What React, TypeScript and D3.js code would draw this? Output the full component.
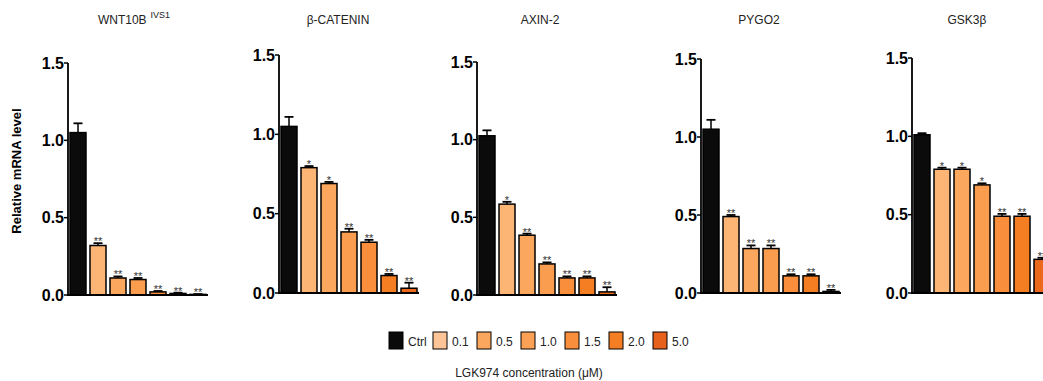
import React from "react";
import { scaleBand, scaleLinear } from "d3";

const width = 1043;
const height = 381;

const groups = ["Ctrl", "0.1", "0.5", "1.0", "1.5", "2.0", "5.0"];
const colors = ["#0b0b0b", "#fdb576", "#fca75e", "#fb9d4e", "#f98f3c", "#f57d22", "#ec681b"];
const legendColors = ["#0b0b0b", "#fdc497", "#fca75e", "#fba055", "#f98f3c", "#f57d22", "#e8611a"];

const genes = ["WNT10B", "β-CATENIN", "AXIN-2", "PYGO2", "GSK3β"];
const geneSup = ["IVS1", "", "", "", ""];

const wnt10bValues = [1.05, 0.32, 0.11, 0.1, 0.02, 0.01, 0.004];
const wnt10bErrors = [0.06, 0.015, 0.01, 0.01, 0.006, 0.005, 0.002];
const wnt10bStars = ["", "**", "**", "**", "**", "**", "**"];

const catValues = [1.05, 0.79, 0.69, 0.385, 0.32, 0.11, 0.03];
const catErrors = [0.06, 0.01, 0.01, 0.02, 0.015, 0.01, 0.035];
const catStars = ["", "*", "*", "**", "**", "**", "**"];

const axinValues = [1.025, 0.585, 0.385, 0.2, 0.11, 0.11, 0.02];
const axinErrors = [0.035, 0.015, 0.01, 0.01, 0.01, 0.01, 0.03];
const axinStars = ["", "*", "**", "**", "**", "**", "**"];

const pygoValues = [1.05, 0.49, 0.285, 0.285, 0.11, 0.11, 0.01];
const pygoErrors = [0.06, 0.01, 0.02, 0.02, 0.01, 0.01, 0.01];
const pygoStars = ["", "**", "**", "**", "**", "**", "**"];

const gskValues = [1.01, 0.79, 0.79, 0.69, 0.49, 0.49, 0.215];
const gskErrors = [0.01, 0.01, 0.01, 0.01, 0.015, 0.015, 0.01];
const gskStars = ["", "*", "*", "*", "**", "**", "**"];

const yTicks = [0, 0.5, 1.0, 1.5];

// panel layout (pixels)
const axisX = [68, 279, 477, 701, 912];
const axisTop = [63, 55, 62, 59, 58];
const axisBottom = [295, 293, 295, 293, 293];
const titleOffset = [66, 59, 63, 58, 55];
const panelWidth = 140;

const panels = [
  { values: wnt10bValues, errors: wnt10bErrors, stars: wnt10bStars },
  { values: catValues, errors: catErrors, stars: catStars },
  { values: axinValues, errors: axinErrors, stars: axinStars },
  { values: pygoValues, errors: pygoErrors, stars: pygoStars },
  { values: gskValues, errors: gskErrors, stars: gskStars },
];

const font = "'Liberation Sans', Arial, sans-serif";

export default function App() {
  const x = scaleBand<string>()
    .domain(groups)
    .range([0, panelWidth])
    .paddingInner(0.2)
    .paddingOuter(0.1);

  return (
    <svg
      width={width}
      height={height}
      style={{ position: "absolute", left: 0, top: 0, fontFamily: font }}
    >
      <rect width={width} height={height} fill="white" />
      <text
        transform="translate(21, 171) rotate(-90)"
        textAnchor="middle"
        fontSize={13}
        fontWeight="bold"
      >
        Relative mRNA level
      </text>
      {panels.map((p, pi) => {
        const y = scaleLinear().domain([0, 1.5]).range([axisBottom[pi], axisTop[pi]]);
        return (
          <g key={genes[pi]} transform={`translate(${axisX[pi]}, 0)`}>
            <text x={titleOffset[pi]} y={24} textAnchor="middle" fontSize={12} fill="#222">
              {genes[pi]}
              {geneSup[pi] && (
                <tspan fontSize={9} dx={4} dy={-6}>
                  {geneSup[pi]}
                </tspan>
              )}
            </text>
            {p.values.map((v, i) => {
              const bx = x(groups[i])!;
              const bw = x.bandwidth();
              const cx = bx + bw / 2;
              const errTop = y(v + p.errors[i]);
              return (
                <g key={groups[i]}>
                  <line x1={cx} x2={cx} y1={y(v)} y2={errTop} stroke="#000" strokeWidth={1.5} />
                  <line x1={cx - 4.5} x2={cx + 4.5} y1={errTop} y2={errTop} stroke="#000" strokeWidth={1.8} />
                  <rect
                    x={bx}
                    y={y(v)}
                    width={bw}
                    height={y(0) - y(v)}
                    fill={colors[i]}
                    stroke="#000"
                    strokeWidth={1.5}
                  />
                  <text
                    x={cx}
                    y={errTop + 2}
                    textAnchor="middle"
                    fontSize={11}
                    fill="#333"
                  >
                    {p.stars[i]}
                  </text>
                </g>
              );
            })}
            <line x1={0} x2={0} y1={y(1.5)} y2={y(0)} stroke="#000" strokeWidth={1.8} />
            <line x1={-1} x2={panelWidth} y1={y(0)} y2={y(0)} stroke="#000" strokeWidth={1.8} />
            {yTicks.map((t) => (
              <g key={t} transform={`translate(0, ${y(t)})`}>
                <line x1={-4} x2={0} stroke="#000" strokeWidth={1.5} />
                <text x={-4} dy="0.36em" textAnchor="end" fontSize={16} fontWeight="bold">
                  {t.toFixed(1)}
                </text>
              </g>
            ))}
          </g>
        );
      })}
      {groups.map((g, i) => (
        <g key={g} transform={`translate(${389 + i * 44}, 332)`}>
          <rect width={14} height={17} fill={legendColors[i]} stroke="#000" strokeWidth={1} />
          <text x={19} y={14} fontSize={12} fill="#222">
            {g}
          </text>
        </g>
      ))}
      <text x={529} y={377} textAnchor="middle" fontSize={12} fill="#222">
        LGK974 concentration (μM)
      </text>
    </svg>
  );
}
